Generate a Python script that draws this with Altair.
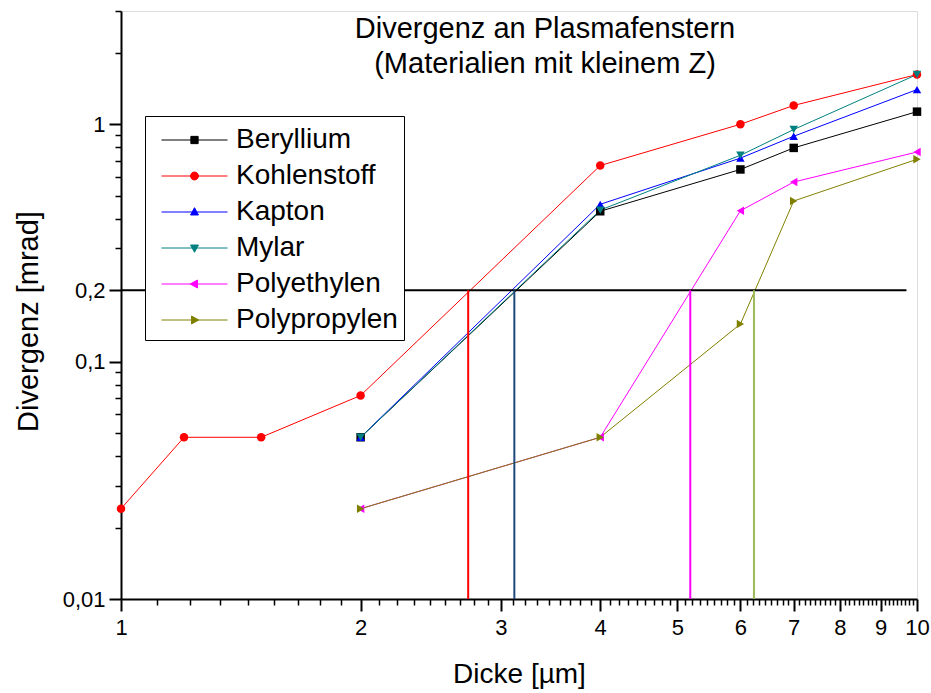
import altair as alt
import pandas as pd

# ---------------- data ----------------
materials = ["Beryllium", "Kohlenstoff", "Kapton", "Mylar", "Polyethylen", "Polypropylen"]

beryllium_x = [2, 4, 6, 7, 10]
beryllium_y = [0.048, 0.43, 0.645, 0.795, 1.13]

kohlenstoff_x = [1, 1.2, 1.5, 2, 4, 6, 7, 10]
kohlenstoff_y = [0.024, 0.048, 0.048, 0.072, 0.67, 1.0, 1.2, 1.62]

kapton_x = [2, 4, 6, 7, 10]
kapton_y = [0.048, 0.46, 0.72, 0.89, 1.40]

mylar_x = [2, 4, 6, 7, 10]
mylar_y = [0.048, 0.435, 0.74, 0.95, 1.62]

polyethylen_x = [2, 4, 6, 7, 10]
polyethylen_y = [0.024, 0.048, 0.432, 0.571, 0.764]

polypropylen_x = [2, 4, 6, 7, 10]
polypropylen_y = [0.024, 0.048, 0.144, 0.475, 0.712]

threshold_level = 0.2
threshold_line_x = [1, 9.7]
crossing_labels = ["Kohlenstoff", "Beryllium/Kapton/Mylar", "Polyethylen", "Polypropylen"]
crossing_x = [2.73, 3.12, 5.19, 6.24]

x_domain = [1, 10]
y_domain = [0.01, 3]
x_ticks = [1, 2, 3, 4, 5, 6, 7, 8, 9, 10]
y_ticks = [0.01, 0.1, 0.2, 1]

# ---------------- styles ----------------
series_colors = ["#000000", "#FF0000", "#0000FF", "#008080", "#FF00FF", "#808000"]
series_shapes = ["square", "circle", "triangle-up", "triangle-down", "triangle-left", "triangle-right"]
crossing_colors = ["#FF0000", "#1F497D", "#FF00FF", "#9BBB59"]

m = 0.11
legend_paths = [
    f"M-1,0L1,0M-{m},-{m}L{m},-{m}L{m},{m}L-{m},{m}Z",
    "M-1,0L1,0M-0.12,0A0.12,0.12 0 1,0 0.12,0A0.12,0.12 0 1,0 -0.12,0Z",
    "M-1,0L1,0M0,-0.13L0.12,0.09L-0.12,0.09Z",
    "M-1,0L1,0M0,0.13L0.12,-0.09L-0.12,-0.09Z",
    "M-1,0L1,0M-0.13,0L0.09,-0.12L0.09,0.12Z",
    "M-1,0L1,0M0.13,0L-0.09,-0.12L-0.09,0.12Z",
]

FONT = "Liberation Sans"

# minor tick positions
x_minor = [round(n + k / 9, 5) for n in range(1, 10) for k in range(1, 9)]
y_minor = [round(d * k, 5) for d in (0.01, 0.1) for k in range(2, 10)]
y_minor = [v for v in y_minor if v != 0.2] + [2, 3]

# ---------------- tables ----------------
series_x = [beryllium_x, kohlenstoff_x, kapton_x, mylar_x, polyethylen_x, polypropylen_x]
series_y = [beryllium_y, kohlenstoff_y, kapton_y, mylar_y, polyethylen_y, polypropylen_y]
rows = []
for name, xs, ys in zip(materials, series_x, series_y):
    for xv, yv in zip(xs, ys):
        rows.append({"Material": name, "Dicke": xv, "Divergenz": yv})
df = pd.DataFrame(rows)

hline_df = pd.DataFrame({"y": [threshold_level], "x1": [threshold_line_x[0]], "x2": [threshold_line_x[1]]})
vline_df = pd.DataFrame({"label": crossing_labels, "x": crossing_x,
                         "y1": [y_domain[0]] * len(crossing_x), "y2": [threshold_level] * len(crossing_x)})

xscale = alt.Scale(type="log", domain=x_domain, nice=False)
yscale = alt.Scale(type="log", domain=y_domain, nice=False)

common_axis = dict(grid=False, domainColor="black", tickColor="black", labelColor="black",
                   titleColor="black", labelFont=FONT, titleFont=FONT, titleFontWeight="normal")

x_axis_major = alt.Axis(orient="bottom", values=x_ticks, format="d", tickSize=12, tickWidth=2,
                        domainWidth=2, labelFontSize=22, labelPadding=6, labelFlush=False,
                        labelOverlap=False, title="Dicke [µm]", titleFontSize=28, titlePadding=22,
                        **common_axis)
x_axis_minor = alt.Axis(orient="bottom", values=x_minor, tickSize=6, tickWidth=1.5, domain=False,
                        labels=False, title=None, **common_axis)
y_axis_major = alt.Axis(orient="left", values=y_ticks,
                        labelExpr="replace(toString(datum.value), '.', ',')",
                        tickSize=12, tickWidth=2, domainWidth=2, labelFontSize=22, labelPadding=4,
                        labelOverlap=False, labelFlush=False, title="Divergenz [mrad]",
                        titleFontSize=29, titleX=-93, titleY=310, titleBaseline="middle",
                        titleAngle=270, **common_axis)
y_axis_minor = alt.Axis(orient="left", values=y_minor, tickSize=6, tickWidth=1.5, domain=False,
                        labels=False, title=None, **common_axis)

color_main = alt.Color("Material:N", scale=alt.Scale(domain=materials, range=series_colors), legend=None)

lines = alt.Chart(df).mark_line(strokeWidth=1, clip=True).encode(
    x=alt.X("Dicke:Q", scale=xscale, axis=x_axis_major),
    y=alt.Y("Divergenz:Q", scale=yscale, axis=y_axis_major),
    color=color_main,
)

points = alt.Chart(df).mark_point(filled=True, size=72, opacity=1, clip=False).encode(
    x=alt.X("Dicke:Q", scale=xscale, axis=x_axis_minor),
    y=alt.Y("Divergenz:Q", scale=yscale, axis=y_axis_minor),
    color=color_main,
    shape=alt.Shape("Material:N", scale=alt.Scale(domain=materials, range=series_shapes), legend=None),
)

hrule = alt.Chart(hline_df).mark_rule(color="black", strokeWidth=2).encode(
    x=alt.X("x1:Q", scale=xscale, axis=None),
    x2="x2:Q",
    y=alt.Y("y:Q", scale=yscale, axis=None),
)

vrules = alt.Chart(vline_df).mark_rule(strokeWidth=2).encode(
    x=alt.X("x:Q", scale=xscale, axis=None),
    y=alt.Y("y1:Q", scale=yscale, axis=None),
    y2="y2:Q",
    color=alt.Color("label:N", scale=alt.Scale(domain=crossing_labels, range=crossing_colors), legend=None),
)

leg = alt.Legend(orient="none", legendX=24, legendY=105, title=" ", titleFontSize=1,
                 titlePadding=3, labelFont=FONT,
                 labelFontSize=28, labelColor="black", strokeColor="black", fillColor="white",
                 padding=6, rowPadding=8, labelOffset=8, symbolOffset=10, symbolSize=4356,
                 symbolStrokeWidth=1, labelLimit=400, clipHeight=28)

legend_layer = alt.Chart(df).transform_filter("datum.Dicke < 0").mark_point(
    filled=True, size=4356, opacity=1, strokeWidth=1).encode(
    x=alt.X("Dicke:Q", scale=xscale, axis=None),
    y=alt.Y("Divergenz:Q", scale=yscale, axis=None),
    color=alt.Color("Material:N", scale=alt.Scale(domain=materials, range=series_colors), legend=leg),
    stroke=alt.Stroke("Material:N", scale=alt.Scale(domain=materials, range=series_colors), legend=leg),
    shape=alt.Shape("Material:N", scale=alt.Scale(domain=materials, range=legend_paths), legend=leg),
)

chart = alt.layer(lines, points, hrule, vrules, legend_layer).resolve_scale(
    color="independent", shape="independent", stroke="independent"
).resolve_axis(x="independent", y="independent").properties(
    width=796, height=588,
    autosize=alt.AutoSizeParams(type="none"),
    padding={"left": 121, "top": 11, "right": 14, "bottom": 94},
    title=alt.TitleParams(text=["Divergenz an Plasmafenstern", "(Materialien mit kleinem Z)"],
                          font=FONT, fontSize=29, fontWeight="normal", color="black",
                          anchor="middle", dx=26, dy=69, baseline="top", offset=0, lineHeight=35),
).configure_view(stroke=None).configure(font=FONT, background="white")

chart.save("out.html", embed_options={"renderer": "svg", "actions": False})
